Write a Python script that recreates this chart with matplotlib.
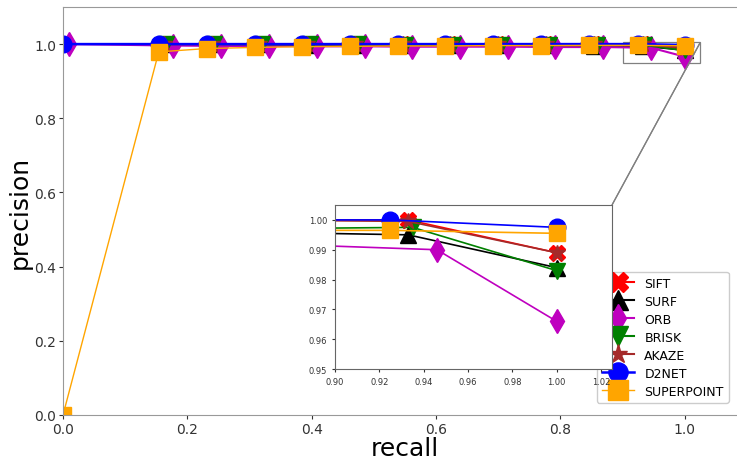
import numpy as np
import matplotlib
matplotlib.use("Agg")
import matplotlib.pyplot as plt
from mpl_toolkits.axes_grid1.inset_locator import mark_inset

# precision / recall curves per detector
sift_r = [0.162, 0.239, 0.316, 0.393, 0.470, 0.546, 0.623, 0.700, 0.777, 0.854, 0.933, 1.0]
sift_p = [1.0, 1.0, 1.0, 1.0, 1.0, 1.0, 1.0, 1.0, 1.0, 1.0, 1.0, 0.989]
surf_r = [0.162, 0.239, 0.316, 0.393, 0.470, 0.546, 0.623, 0.700, 0.777, 0.854, 0.933, 1.0]
surf_p = [1.0, 0.999, 0.999, 0.998, 0.998, 0.998, 0.997, 0.997, 0.997, 0.996, 0.995, 0.984]
orb_r = [0.010, 0.177, 0.254, 0.331, 0.408, 0.485, 0.561, 0.638, 0.715, 0.792, 0.869, 0.946, 1.0]
orb_p = [1.0, 0.996, 0.995, 0.995, 0.994, 0.994, 0.993, 0.993, 0.993, 0.992, 0.992, 0.990, 0.966]
brisk_r = [0.166, 0.243, 0.320, 0.397, 0.474, 0.550, 0.627, 0.704, 0.781, 0.858, 0.935, 1.0]
brisk_p = [1.0, 1.0, 0.999, 0.999, 0.999, 0.998, 0.998, 0.998, 0.997, 0.997, 0.9975, 0.983]
akaze_r = [0.162, 0.239, 0.316, 0.393, 0.470, 0.546, 0.623, 0.700, 0.777, 0.854, 0.933, 1.0]
akaze_p = [1.0, 1.0, 1.0, 1.0, 1.0, 1.0, 1.0, 1.0, 1.0, 1.0, 0.9995, 0.989]
d2net_r = [0.0, 0.154, 0.231, 0.308, 0.385, 0.462, 0.538, 0.615, 0.692, 0.769, 0.846, 0.925, 1.0]
d2net_p = [1.0, 1.0, 1.0, 1.0, 1.0, 1.0, 1.0, 1.0, 1.0, 1.0, 1.0, 1.0, 0.9975]
sp_r = [0.0, 0.154, 0.231, 0.308, 0.385, 0.462, 0.538, 0.615, 0.692, 0.769, 0.846, 0.925, 1.0]
sp_p = [0.0, 0.979, 0.988, 0.991, 0.993, 0.994, 0.995, 0.995, 0.996, 0.996, 0.9965, 0.9965, 0.9955]

series = [
    ("SIFT", sift_r, sift_p, "red", "X", 1.5),
    ("SURF", surf_r, surf_p, "black", "^", 1.5),
    ("ORB", orb_r, orb_p, "m", "d", 1.5),
    ("BRISK", brisk_r, brisk_p, "g", "v", 1.5),
    ("AKAZE", akaze_r, akaze_p, "brown", "*", 1.5),
    ("D2NET", d2net_r, d2net_p, "b", "o", 1.8),
    ("SUPERPOINT", sp_r, sp_p, "orange", "s", 1.0),
]

fig = plt.figure(figsize=(7.37, 4.64), dpi=100)
ax = fig.add_axes([63 / 737, 48 / 464, 684 / 737, 408 / 464])
axins = fig.add_axes([335 / 737, 94 / 464, 277 / 737, 164 / 464])

for name, r, p, c, mk, lw in series:
    ax.plot(r, p, color=c, marker=mk, ms=12, lw=lw, label=name)
    axins.plot(r, p, color=c, marker=mk, ms=12, lw=1.2)

ax.set_xlim(0, 1.1)
ax.set_ylim(0, 1.1)
ax.set_xticks([0.0, 0.2, 0.4, 0.6, 0.8, 1.0])
ax.set_yticks([0.0, 0.2, 0.4, 0.6, 0.8, 1.0])
ax.tick_params(labelsize=10, colors="#333333", length=3, pad=2)
ax.set_xlabel("recall", fontsize=18, labelpad=0)
ax.set_ylabel("precision", fontsize=18, labelpad=2)
for s in ax.spines.values():
    s.set_color("#999999")

axins.set_xlim(0.9, 1.025)
axins.set_ylim(0.95, 1.005)
axins.set_xticks([0.90, 0.92, 0.94, 0.96, 0.98, 1.00, 1.02])
axins.set_yticks([0.95, 0.96, 0.97, 0.98, 0.99, 1.00])
axins.xaxis.set_major_formatter(matplotlib.ticker.FormatStrFormatter("%.2f"))
axins.yaxis.set_major_formatter(matplotlib.ticker.FormatStrFormatter("%.2f"))
axins.tick_params(labelsize=6, length=2, colors="#333333")
for s in axins.spines.values():
    s.set_color("#666666")

mark_inset(ax, axins, loc1=1, loc2=1, fc="none", ec="0.5", lw=0.9)

ax.legend(loc="lower right", bbox_to_anchor=(735 / 737, 54 / 464),
          bbox_transform=fig.transFigure, fontsize=9, markerscale=1.15,
          handlelength=2.6, labelspacing=0.4, borderpad=0.4, framealpha=1)

fig.savefig("out.png", dpi=100)
